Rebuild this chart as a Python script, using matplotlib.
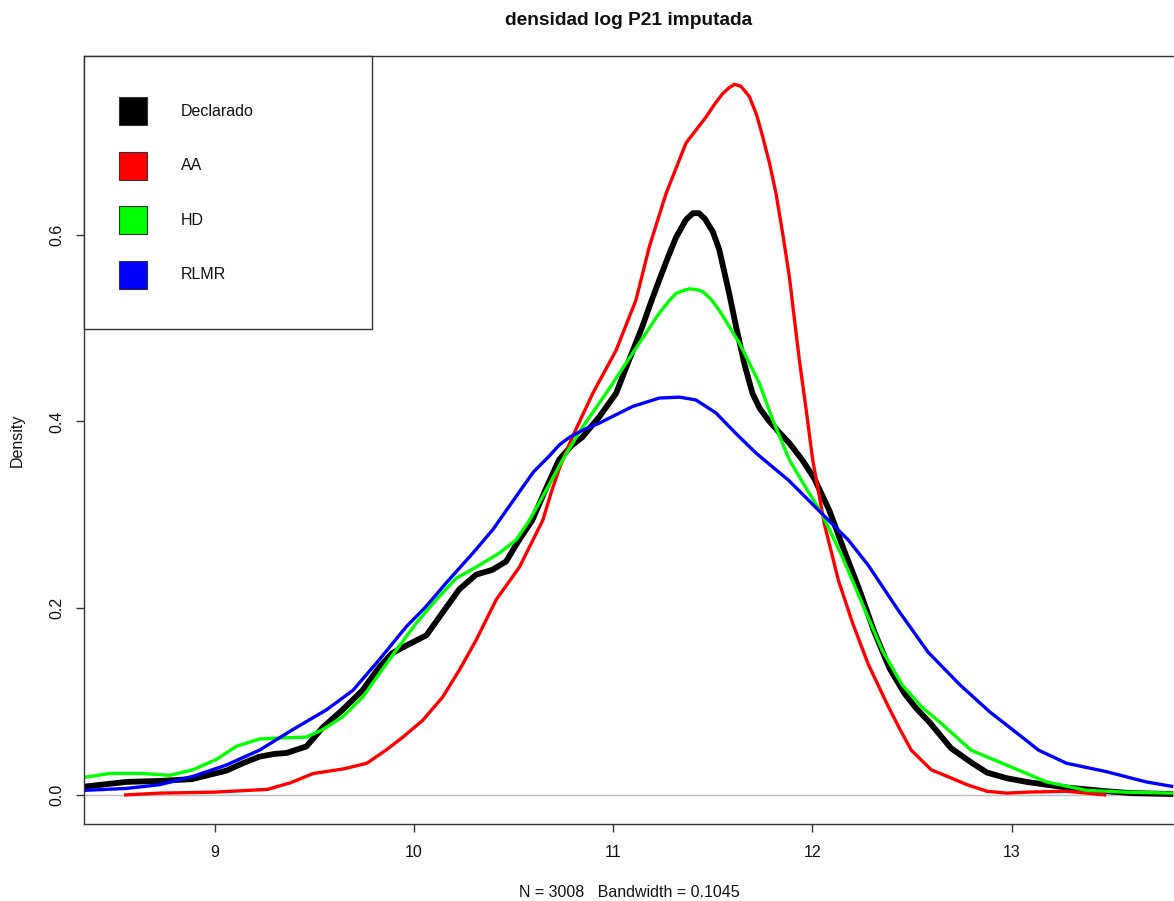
import numpy as np
import matplotlib
matplotlib.use("Agg")
import matplotlib.pyplot as plt
from matplotlib.patches import Rectangle

plt.rcParams['font.family'] = ['Liberation Sans', 'DejaVu Sans']

# densidades (x = log P21, y = densidad)
x_decl = [8.347, 8.557, 8.722, 8.886, 9.057, 9.140, 9.223, 9.300, 9.360, 9.460, 9.540, 9.640,
          9.741, 9.826, 9.891, 9.961, 10.062, 10.142, 10.226, 10.312, 10.392, 10.462,
          10.527, 10.593, 10.660, 10.728, 10.790, 10.844, 10.930, 11.014, 11.080, 11.145, 11.190,
          11.230, 11.275, 11.315, 11.365, 11.400, 11.430, 11.460, 11.500, 11.532, 11.582, 11.617,
          11.660, 11.699, 11.735, 11.780, 11.830, 11.883,
          11.948, 12.009, 12.084, 12.159, 12.235, 12.310, 12.386, 12.461, 12.520, 12.587, 12.696,
          12.796, 12.876, 12.975, 13.075, 13.175, 13.275, 13.475, 13.600, 13.811]
y_decl = [0.009, 0.014, 0.015, 0.017, 0.026, 0.034, 0.041, 0.044, 0.045, 0.052, 0.072, 0.091,
          0.112, 0.137, 0.152, 0.160, 0.171, 0.195, 0.220, 0.236, 0.241, 0.250,
          0.273, 0.294, 0.327, 0.359, 0.374, 0.383, 0.405, 0.430, 0.466, 0.501, 0.528,
          0.551, 0.576, 0.597, 0.616, 0.623, 0.623, 0.617, 0.603, 0.584, 0.537, 0.501,
          0.460, 0.430, 0.414, 0.401, 0.389, 0.377,
          0.359, 0.339, 0.305, 0.262, 0.220, 0.175, 0.136, 0.109, 0.093, 0.078, 0.050,
          0.035, 0.024, 0.018, 0.014, 0.011, 0.008, 0.004, 0.002, 0.001]

x_aa = [8.544, 8.726, 8.994, 9.264, 9.379, 9.494, 9.648, 9.763, 9.859, 9.944,
        10.044, 10.144, 10.228, 10.312, 10.412, 10.529, 10.613, 10.646, 10.690, 10.730, 10.796,
        10.897, 11.014, 11.114, 11.181, 11.265, 11.365, 11.466, 11.510, 11.549, 11.580, 11.608,
        11.640, 11.683, 11.720, 11.750, 11.785, 11.817, 11.850, 11.884, 11.934, 11.970, 12.001,
        12.060, 12.130, 12.200, 12.280, 12.380, 12.440,
        12.496, 12.596, 12.676, 12.776, 12.876, 12.975, 13.075, 13.275, 13.475]
y_aa = [0.000, 0.002, 0.003, 0.006, 0.013, 0.023, 0.028, 0.034, 0.048, 0.062,
        0.080, 0.105, 0.134, 0.166, 0.209, 0.244, 0.280, 0.294, 0.325, 0.350, 0.384,
        0.430, 0.476, 0.530, 0.587, 0.644, 0.698, 0.726, 0.740, 0.751, 0.757, 0.761,
        0.759, 0.748, 0.728, 0.705, 0.676, 0.644, 0.602, 0.555, 0.466, 0.410, 0.359,
        0.290, 0.230, 0.185, 0.140, 0.095, 0.070,
        0.048, 0.027, 0.020, 0.011, 0.004, 0.002, 0.003, 0.004, 0.000]

x_hd = [8.347, 8.472, 8.639, 8.773, 8.890, 9.007, 9.107, 9.224, 9.325, 9.459,
        9.542, 9.643, 9.743, 9.826, 9.910, 10.011, 10.111, 10.211, 10.312, 10.428,
        10.512, 10.579, 10.660, 10.746, 10.846, 10.964, 11.097, 11.231, 11.280, 11.315, 11.350,
        11.382, 11.420, 11.449, 11.490, 11.532, 11.633, 11.733, 11.800, 11.884, 11.950, 12.050,
        12.150, 12.250, 12.350, 12.450, 12.550, 12.650, 12.796, 12.975, 13.175, 13.374,
        13.575, 13.811]
y_hd = [0.019, 0.023, 0.023, 0.021, 0.027, 0.038, 0.052, 0.060, 0.061, 0.062,
        0.070, 0.084, 0.105, 0.130, 0.155, 0.184, 0.209, 0.232, 0.244, 0.259,
        0.273, 0.294, 0.325, 0.359, 0.394, 0.430, 0.473, 0.516, 0.529, 0.537, 0.540,
        0.542, 0.541, 0.539, 0.531, 0.519, 0.484, 0.441, 0.402, 0.359, 0.335, 0.300,
        0.255, 0.205, 0.155, 0.118, 0.094, 0.076, 0.048, 0.032, 0.014, 0.005,
        0.003, 0.002]

x_rlmr = [8.347, 8.555, 8.723, 8.890, 9.057, 9.224, 9.391, 9.559, 9.693, 9.826,
          9.960, 10.061, 10.161, 10.295, 10.395, 10.530, 10.600, 10.679, 10.730, 10.780, 10.850,
          10.928, 11.097, 11.231, 11.332, 11.415, 11.516, 11.616, 11.717, 11.880, 12.030, 12.180,
          12.280, 12.430, 12.580, 12.740, 12.890, 13.040, 13.135, 13.275, 13.475, 13.675, 13.811]
y_rlmr = [0.005, 0.007, 0.011, 0.020, 0.032, 0.048, 0.070, 0.091, 0.112, 0.145,
          0.180, 0.202, 0.227, 0.259, 0.284, 0.325, 0.346, 0.363, 0.375, 0.383, 0.391,
          0.398, 0.416, 0.425, 0.426, 0.423, 0.409, 0.387, 0.366, 0.337, 0.305, 0.273,
          0.246, 0.198, 0.153, 0.118, 0.089, 0.064, 0.048, 0.034, 0.025, 0.014, 0.009]

nombres = ['Declarado', 'AA', 'HD', 'RLMR']
colores = ['black', '#FF0000', '#00FF00', '#0000FF']
grosor = [4.2, 2.4, 2.4, 2.4]
xticks = [9, 10, 11, 12, 13]
yticks = [0.0, 0.2, 0.4, 0.6]

W, H = 1174, 901
fig = plt.figure(figsize=(W / 100, H / 100), dpi=100)

def px(x, y):
    # pixel (desde arriba a la izquierda) -> fraccion de la figura
    return x / W, 1 - y / H

ax = fig.add_axes([84 / W, (H - 824.3) / H, (W - 84) / W, (824.3 - 55.7) / H])

series = [(x_decl, y_decl), (x_aa, y_aa), (x_hd, y_hd), (x_rlmr, y_rlmr)]
ax.axhline(0, color='#bebebe', lw=1.0, zorder=1)
for (xs, ys), c, lw in zip(series, colores, grosor):
    ax.plot(xs, ys, color=c, lw=lw, solid_joinstyle='round', solid_capstyle='butt', zorder=2)

ax.set_xlim(8.343, 13.815)
ax.set_ylim(-0.0314, 0.7916)
ax.spines['right'].set_visible(False)
for s in ['left', 'top', 'bottom']:
    ax.spines[s].set_color('#333333')
    ax.spines[s].set_linewidth(1.0)

ax.set_xticks(xticks)
ax.set_xticklabels([str(t) for t in xticks])
ax.set_yticks(yticks)
ax.set_yticklabels(['%.1f' % t for t in yticks], rotation=90, va='center')
ax.tick_params(axis='both', length=6, width=1, color='#333333', labelsize=11.5,
               labelcolor='#111111')
ax.tick_params(axis='x', pad=9)
ax.tick_params(axis='y', pad=8)

fig.text(*px(629, 25), 'densidad log P21 imputada', ha='center', va='baseline',
         fontsize=13.8, fontweight='bold', color='#111111')
fig.text(*px(629, 897), 'N = 3008   Bandwidth = 0.1045', ha='center', va='baseline',
         fontsize=11.5, color='#111111')
fig.text(*px(17, 440), 'Density', ha='center', va='center', rotation=90,
         fontsize=11.5, color='#111111')

# leyenda tipo R
lx, ly = px(84, 329)
fig.add_artist(Rectangle((lx, ly), (372 - 84) / W, (329 - 56) / H, transform=fig.transFigure,
                         facecolor='white', edgecolor='#333333', lw=1.0, zorder=5))
for i, (nom, c) in enumerate(zip(nombres, colores)):
    cy = 111 + i * 54.6
    bx, by = px(119, cy + 14)
    fig.add_artist(Rectangle((bx, by), 28 / W, 28 / H, transform=fig.transFigure,
                             facecolor=c, edgecolor='#333333', lw=0.8, zorder=6))
    fig.text(*px(181, cy), nom, ha='left', va='center', fontsize=11.5,
             color='#111111', zorder=7)

fig.savefig('out.png', dpi=100)
